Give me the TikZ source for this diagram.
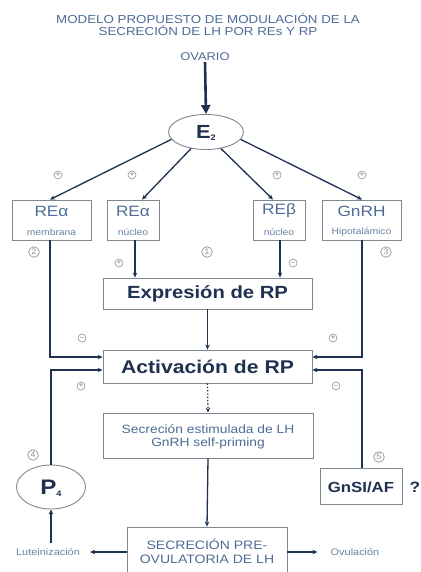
\documentclass[tikz,border=0pt]{standalone}
\usepackage{fontspec}
\setmainfont{Liberation Sans}[FakeStretch=1.15]
\usetikzlibrary{arrows.meta,shapes.geometric}
\definecolor{navy}{HTML}{1E3150}
\definecolor{steel}{HTML}{4E6C96}
\definecolor{lightsteel}{HTML}{6682A8}
\definecolor{boxgray}{HTML}{7F8791}
\definecolor{markgray}{HTML}{8E939B}
\begin{document}
\begin{tikzpicture}[x=1pt,y=-1pt,
  fs/.style={font=\fontsize{#1}{#1}\selectfont},
  bfs/.style={font=\fontsize{#1}{#1}\selectfont\bfseries},
  box/.style={draw=boxgray,line width=0.9pt,inner sep=0pt},
  oval/.style={ellipse,draw=boxgray,line width=0.9pt,inner sep=0pt},
  conn/.style={draw=navy,line width=1.3pt,-{Stealth[length=5pt,width=4.5pt]}},
  sgn/.style={circle,draw=markgray,line width=0.6pt,inner sep=0pt,minimum size=8pt,text=markgray,font=\fontsize{6.5}{6.5}\selectfont\bfseries},
  num/.style={circle,draw=markgray,line width=0.7pt,inner sep=0pt,minimum size=10.5pt,text=markgray,font=\fontsize{8}{8}\selectfont},
  lbl/.style={text=lightsteel,font=\fontsize{9.5}{9.5}\selectfont,inner sep=1pt}]
\useasboundingbox[fill=white] (0,0) rectangle (420,572);

% title
\node[text=steel,fs=11.6,align=center] (title) at (208,24.5) {MODELO PROPUESTO DE MODULACIÓN DE LA\\[1pt]SECRECIÓN DE LH POR REs Y RP};
\node[text=steel,fs=11.2,inner sep=1pt] (ovario) at (205,57) {OVARIO};

% E2
\node[oval,minimum width=75pt,minimum height=35pt] (E2) at (206,132) {};
\node[text=navy,inner sep=0pt] (E2t) at (206,133) {\fontsize{19}{19}\selectfont\bfseries E\raisebox{-2pt}{\fontsize{8}{8}\selectfont 2}};
\draw[navy,line width=2.6pt,-{Triangle[length=9pt,width=9pt]}] (ovario.south) -- (E2.north);

% receptor boxes
\node[box,minimum width=79pt,minimum height=40pt] (b1) at (51.5,220) {};
\node[box,minimum width=52pt,minimum height=40pt] (b2) at (133,220) {};
\node[box,minimum width=52pt,minimum height=40pt] (b3) at (279,220) {};
\node[box,minimum width=79pt,minimum height=40pt] (b4) at (361.5,220) {};
\node[text=steel,fs=15] (b1a) at (51.5,211) {REα};
\node[text=lightsteel,fs=9] (b1b) at (51.5,232) {membrana};
\node[text=steel,fs=15] (b2a) at (133,211) {REα};
\node[text=lightsteel,fs=9] (b2b) at (133,232) {núcleo};
\node[text=steel,fs=15] (b3a) at (279,211) {REβ};
\node[text=lightsteel,fs=9] (b3b) at (279,232) {núcleo};
\node[text=steel,fs=15] (b4a) at (361.5,211) {GnRH};
\node[text=lightsteel,fs=9] (b4b) at (361.5,232) {Hipotalámico};

\draw[conn] (E2.192) -- ([xshift=-1.5pt]b1.north);
\draw[conn] (E2.228) -- ([xshift=9pt]b2.north);
\draw[conn] (E2.312) -- ([xshift=-6pt]b3.north);
\draw[conn] (E2.348) -- ([xshift=0.5pt]b4.north);

% central boxes
\node[box,minimum width=209pt,minimum height=31pt] (expr) at (207.5,293.5) {};
\node[text=navy,bfs=17.6] (exprt) at (207.5,294) {Expresión de RP};
\node[box,minimum width=209pt,minimum height=33pt] (act) at (207.5,366.5) {};
\node[text=navy,bfs=18.4] (actt) at (207.5,367) {Activación de RP};
\node[box,minimum width=210pt,minimum height=45pt] (sec) at (208,435.5) {};
\node[text=steel,fs=12,align=center] (sect) at (208,437) {Secreción estimulada de LH\\[1pt]GnRH self-priming};
\node[box,minimum width=160pt,minimum height=48pt] (pre) at (207,551) {};
\node[text=steel,fs=12.2,align=center] (pret) at (207,551.5) {SECRECIÓN PRE-\\[2pt]OVULATORIA DE LH};

% P4 and GnSI
\node[oval,minimum width=69pt,minimum height=44pt] (P4) at (51,487) {};
\node[text=navy,inner sep=0pt] (P4t) at (51,488) {\fontsize{21}{21}\selectfont\bfseries P\raisebox{-2pt}{\fontsize{8}{8}\selectfont 4}};
\node[box,minimum width=82pt,minimum height=36pt] (gnsi) at (361,486) {};
\node[text=navy,bfs=14.6] (gnsit) at (361,487) {GnSI/AF};
\node[text=navy,bfs=15] (q) at (415,487) {?};

\node[lbl] (lut) at (48,552) {Luteinización};
\node[lbl] (ovu) at (355,552) {Ovulación};

% connectors
\coordinate (b2s) at ([xshift=2pt]b2.south);
\coordinate (b3s) at ([xshift=1pt]b3.south);
\draw[conn] (b2s) -- (b2s |- expr.north);
\draw[conn] (b3s) -- (b3s |- expr.north);
\draw[conn] (expr.south) -- (act.north);
\draw[navy,line width=1.3pt,dotted,-{Stealth[length=5pt,width=4.5pt]}] (act.south) -- (sec.north);
\draw[conn] (sec.south) -- (pre.north);

\draw[conn] ([xshift=-1.5pt]b1.south) |- ([yshift=9.5pt]act.west);
\draw[conn] ([xshift=0.5pt]b4.south) |- ([yshift=9.5pt]act.east);
\draw[conn] (P4.north) |- ([yshift=-3.5pt]act.west);
\draw[conn] ([xshift=1pt]gnsi.north) |- ([yshift=-3.5pt]act.east);

\draw[conn] (pre.west |- lut) -- ([xshift=9pt]lut.east);
\draw[conn] (pre.east |- ovu) -- ([xshift=-12pt]ovu.west);
\draw[conn] (P4.south |- lut.north) ++(0,-4) -- (P4.south);

% signs
\node[sgn] (s1) at (58,175) {+};
\node[sgn] (s2) at (132,175) {+};
\node[sgn] (s3) at (277,175) {+};
\node[sgn] (s4) at (362,175) {+};
\node[sgn] (s5) at (119,263) {+};
\node[sgn] (s6) at (293,263) {–};
\node[sgn] (s7) at (82,338) {–};
\node[sgn] (s8) at (333,338) {+};
\node[sgn] (s9) at (81,386) {+};
\node[sgn] (s10) at (336,386) {–};

% numbers
\node[num] (n1) at (207,252) {1};
\node[num] (n2) at (34,252) {2};
\node[num] (n3) at (386,252) {3};
\node[num] (n4) at (33,455) {4};
\node[num] (n5) at (379,457) {5};
\end{tikzpicture}
\end{document}
